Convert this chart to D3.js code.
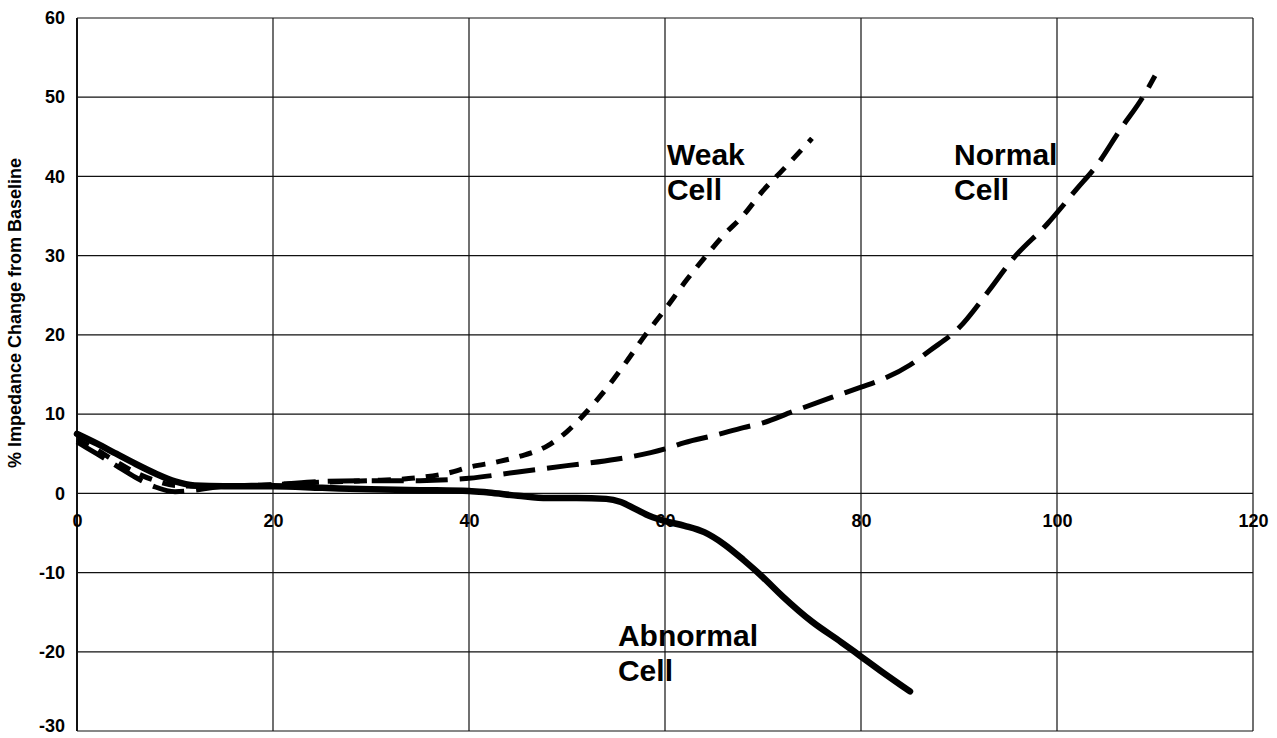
<!DOCTYPE html>
<html>
<head>
<meta charset="utf-8">
<script src="https://cdn.jsdelivr.net/npm/d3@7"></script>
<style>
  html, body { margin: 0; padding: 0; background: #fff; }
  svg { display: block; font-family: "Liberation Sans", Arial, Helvetica, sans-serif; }
</style>
</head>
<body>
<svg id="chart" width="1277" height="738"></svg>
<script>
// ---- data ----
const xTickValues = [0, 20, 40, 60, 80, 100, 120];
const yTickValues = [-30, -20, -10, 0, 10, 20, 30, 40, 50, 60];
const yAxisTitle = "% Impedance Change from Baseline";

const abnormalX = [0, 2, 4, 6, 8, 10, 12, 15, 20, 25, 30, 35, 40, 42, 45, 48, 51, 54, 55.5, 57, 58.5, 60, 62, 64, 66, 68, 70, 72, 75, 78, 80, 82, 85];
const abnormalY = [7.5, 6.3, 5.0, 3.7, 2.5, 1.5, 1.0, 0.9, 0.9, 0.7, 0.5, 0.4, 0.3, 0.1, -0.3, -0.6, -0.6, -0.7, -1.1, -2.0, -2.9, -3.5, -4.1, -4.9, -6.4, -8.4, -10.6, -13.0, -16.2, -18.8, -20.6, -22.4, -25.0];

const weakX = [0, 2, 4, 6, 8, 10, 12, 15, 20, 25, 30, 35, 38, 40, 43, 45, 48, 50, 52, 54, 56, 58, 60, 62, 64, 66, 68, 70, 72, 75];
const weakY = [6.8, 5.5, 4.0, 2.6, 1.6, 1.0, 0.9, 0.9, 1.1, 1.4, 1.6, 2.0, 2.6, 3.3, 4.0, 4.6, 6.0, 7.8, 10.3, 13.2, 16.5, 20.0, 23.2, 26.6, 29.7, 32.6, 35.1, 38.2, 40.8, 44.8];

const normalX = [0, 2, 4, 6, 8, 10, 12, 15, 20, 25, 30, 35, 40, 45, 50, 55, 60, 62, 65, 68, 70, 73, 77, 80, 82, 85, 87, 90, 93, 95.5, 99, 102, 104, 106.5, 108.7, 110];
const normalY = [6.5, 5.0, 3.5, 2.0, 0.8, 0.2, 0.4, 0.9, 1.1, 1.5, 1.6, 1.6, 1.9, 2.7, 3.5, 4.3, 5.6, 6.4, 7.3, 8.3, 8.9, 10.3, 12.1, 13.4, 14.3, 16.2, 18.0, 20.9, 25.5, 29.6, 34.0, 38.4, 41.3, 46.0, 49.9, 52.7];

const labelTexts = [
  { series: "weak", lines: ["Weak", "Cell"] },
  { series: "normal", lines: ["Normal", "Cell"] },
  { series: "abnormal", lines: ["Abnormal", "Cell"] }
];

// ---- layout ----
const svg = d3.select("#chart");
const plotLeft = 77, plotRight = 1253, plotTop = 18, plotBottom = 731;

const x = d3.scaleLinear().domain([0, 120]).range([plotLeft, plotRight]);
const y = d3.scaleLinear().domain([-30, 60]).range([plotBottom, plotTop]);
const fmt = d => String(d);

// grid lines
const grid = svg.append("g");
grid.selectAll("line.h").data(yTickValues).join("line")
  .attr("class", "h")
  .attr("x1", x(0)).attr("x2", x(120))
  .attr("y1", d => y(d)).attr("y2", d => y(d))
  .attr("stroke", "#111").attr("stroke-width", 1.2);
grid.selectAll("line.v").data(xTickValues).join("line")
  .attr("class", "v")
  .attr("x1", d => x(d)).attr("x2", d => x(d))
  .attr("y1", y(60)).attr("y2", y(-30))
  .attr("stroke", "#111").attr("stroke-width", d => d === 0 ? 2 : 1.2);

// y axis labels
const yAxis = d3.axisLeft(y).tickValues(yTickValues).tickSize(0).tickPadding(12).tickFormat(fmt);
const gy = svg.append("g").attr("transform", `translate(${x(0)},0)`).call(yAxis);
gy.select(".domain").remove();
gy.selectAll("text").attr("font-size", 18).attr("font-weight", "bold").attr("fill", "#000")
  .attr("font-family", "Liberation Sans, Arial, sans-serif")
  .attr("dy", d => d === -30 ? "0.05em" : "0.32em");

// x axis labels (at y = 0)
const xAxis = d3.axisBottom(x).tickValues(xTickValues).tickSize(0).tickPadding(21).tickFormat(fmt);
const gx = svg.append("g").attr("transform", `translate(0,${y(0)})`).call(xAxis);
gx.select(".domain").remove();
gx.selectAll("text").attr("font-size", 18).attr("font-weight", "bold").attr("fill", "#000")
  .attr("font-family", "Liberation Sans, Arial, sans-serif");

// y axis title
svg.append("text")
  .attr("transform", `translate(21,313) rotate(-90)`)
  .attr("text-anchor", "middle")
  .attr("font-size", 18).attr("font-weight", "bold")
  .text(yAxisTitle);

// lines
const line = d3.line().x(d => x(d[0])).y(d => y(d[1])).curve(d3.curveMonotoneX);
const zip = (a, b) => a.map((v, i) => [v, b[i]]);

svg.append("path").datum(zip(normalX, normalY))
  .attr("d", line).attr("fill", "none").attr("stroke", "#000")
  .attr("stroke-width", 5).attr("stroke-dasharray", "32,12")
  .attr("stroke-linecap", "butt");

svg.append("path").datum(zip(weakX, weakY))
  .attr("d", line).attr("fill", "none").attr("stroke", "#000")
  .attr("stroke-width", 5).attr("stroke-dasharray", "13,11")
  .attr("stroke-linecap", "butt");

svg.append("path").datum(zip(abnormalX, abnormalY))
  .attr("d", line).attr("fill", "none").attr("stroke", "#000")
  .attr("stroke-width", 6.5).attr("stroke-linejoin", "round").attr("stroke-linecap", "round");

// annotations
const labelPos = { weak: [60.2, 41.5], normal: [89.5, 41.5], abnormal: [55.2, -19.3] };
labelTexts.forEach(l => {
  const [lx, ly] = labelPos[l.series];
  const t = svg.append("text")
    .attr("x", x(lx)).attr("y", y(ly))
    .attr("font-size", 30).attr("font-weight", "bold").attr("fill", "#000");
  l.lines.forEach((s, i) => {
    t.append("tspan").attr("x", x(lx)).attr("dy", i === 0 ? 0 : 35).text(s);
  });
});
</script>
</body>
</html>
